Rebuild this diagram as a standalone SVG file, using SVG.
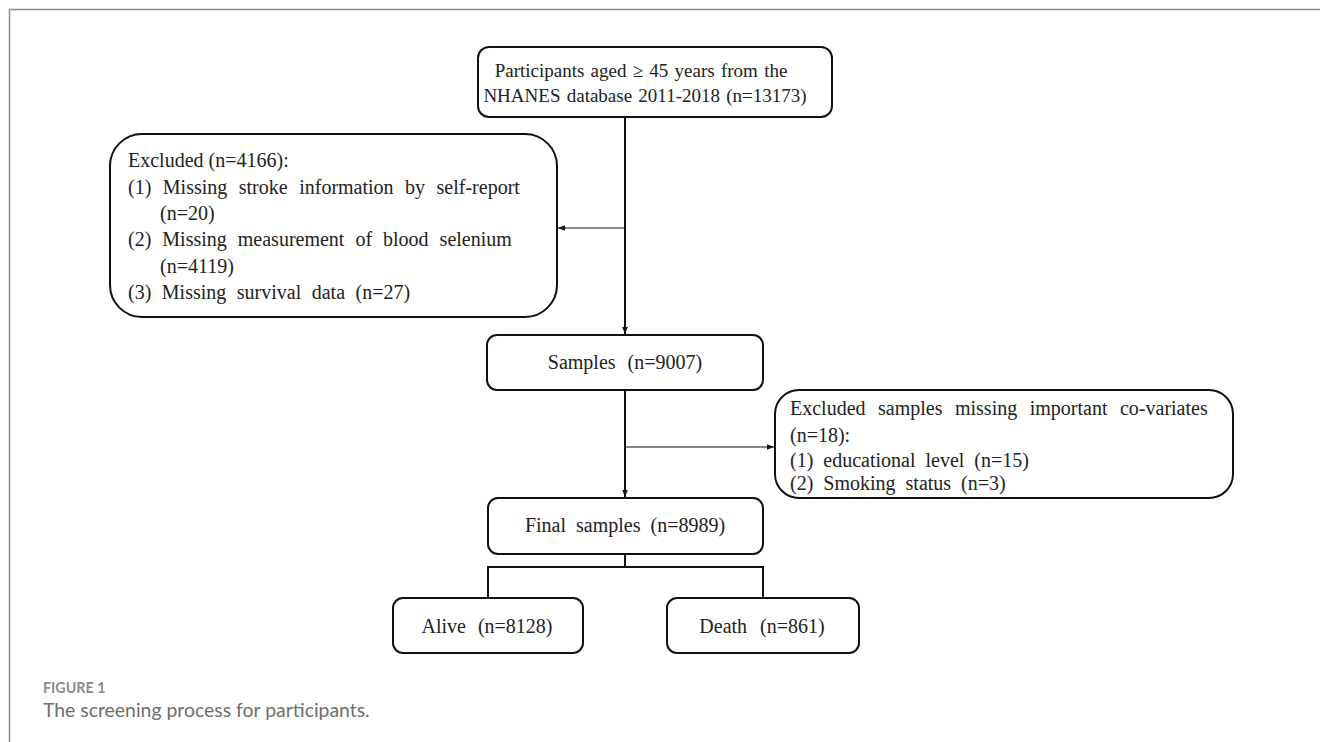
<svg xmlns="http://www.w3.org/2000/svg" width="1320" height="742" viewBox="0 0 1320 742">
<style>
.box{fill:#fff;stroke:#111;stroke-width:2}
.t{font-family:"Liberation Serif","Times New Roman",serif;font-size:20px;fill:#222;white-space:pre}
.tt{font-size:19px;word-spacing:1.5px}
.c{stroke:#111;fill:none}
.main{stroke-width:2}
.thin{stroke-width:1.2}
.cap1{font-family:Lato,"Open Sans",sans-serif;font-size:14.3px;font-weight:bold;fill:#8a8a8a}
.cap2{font-family:Lato,"Open Sans",sans-serif;font-size:19.4px;fill:#6e6e6e}
</style>
<defs>
<marker id="ah" viewBox="0 0 10 10" refX="10" refY="5" markerWidth="7" markerHeight="7" markerUnits="userSpaceOnUse" orient="auto">
<path d="M0,1 L10,5 L0,9 Z" fill="#111"/>
</marker>
</defs>
<rect width="1320" height="742" fill="#fff"/>
<path d="M9.5,742 V9.5 H1320" fill="none" stroke="#8c8c8c" stroke-width="1.5"/>

<g id="connectors">
<line class="c main" x1="625" y1="117" x2="625" y2="334" marker-end="url(#ah)"/>
<line class="c thin" x1="625" y1="228" x2="558" y2="228" marker-end="url(#ah)"/>
<line class="c main" x1="625" y1="390" x2="625" y2="497" marker-end="url(#ah)"/>
<line class="c thin" x1="625" y1="447" x2="774" y2="447" marker-end="url(#ah)"/>
<path class="c main" d="M625,554 V567 M488,598 V567 H763 V598"/>
</g>

<g id="node-participants">
<rect class="box" x="478" y="47" width="354" height="70" rx="11"/>
<text class="t tt" x="641" y="77" text-anchor="middle">Participants aged ≥ 45 years from the</text>
<text class="t tt" x="645" y="102" text-anchor="middle">NHANES database 2011-2018 (n=13173)</text>
</g>

<g id="node-excluded1">
<rect class="box" x="110" y="134" width="447" height="183" rx="32"/>
<text class="t" x="128" y="167">Excluded (n=4166):</text>
<text class="t" x="128" y="194" style="word-spacing:6.5px">(1) Missing stroke information by self-report</text>
<text class="t" x="160" y="220">(n=20)</text>
<text class="t" x="128" y="246" style="word-spacing:6px">(2) Missing measurement of blood selenium</text>
<text class="t" x="160" y="273">(n=4119)</text>
<text class="t" x="128" y="299" style="word-spacing:5.5px">(3) Missing survival data (n=27)</text>
</g>

<g id="node-samples">
<rect class="box" x="487" y="335" width="276" height="55" rx="10"/>
<text class="t" x="625" y="369" text-anchor="middle" style="word-spacing:7px">Samples (n=9007)</text>
</g>

<g id="node-excluded2">
<rect class="box" x="775" y="390" width="458" height="108" rx="24"/>
<text class="t" x="790" y="415" style="word-spacing:7.5px">Excluded samples missing important co-variates</text>
<text class="t" x="790" y="442">(n=18):</text>
<text class="t" x="790" y="467" style="word-spacing:5px">(1) educational level (n=15)</text>
<text class="t" x="790" y="490" style="word-spacing:5px">(2) Smoking status (n=3)</text>
</g>

<g id="node-final">
<rect class="box" x="488" y="498" width="275" height="56" rx="10"/>
<text class="t" x="625" y="532" text-anchor="middle" style="word-spacing:5px">Final samples (n=8989)</text>
</g>

<g id="node-alive">
<rect class="box" x="393" y="598" width="190" height="55" rx="10"/>
<text class="t" x="487" y="633" text-anchor="middle" style="word-spacing:7px">Alive (n=8128)</text>
</g>

<g id="node-death">
<rect class="box" x="667" y="598" width="192" height="55" rx="10"/>
<text class="t" x="762" y="633" text-anchor="middle" style="word-spacing:8px">Death (n=861)</text>
</g>

<g id="caption">
<text class="cap1" x="43" y="693">FIGURE 1</text>
<text class="cap2" x="43" y="717">The screening process for participants.</text>
</g>
</svg>
